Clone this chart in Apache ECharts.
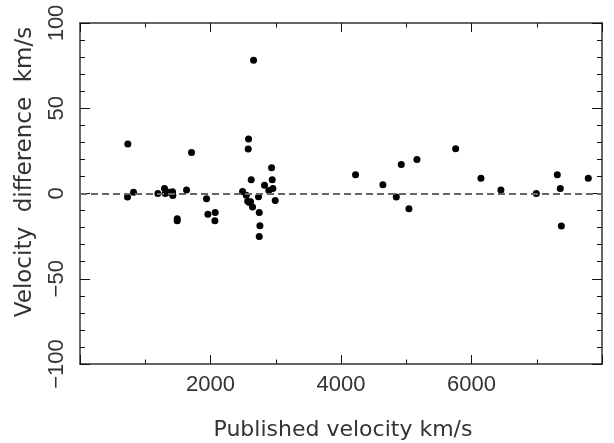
<!DOCTYPE html>
<html>
<head>
<meta charset="utf-8">
<script src="https://cdn.jsdelivr.net/npm/echarts@6/dist/echarts.min.js"></script>
<style>html,body{margin:0;padding:0;background:#fff;}#c{width:614px;height:443px;}</style>
</head>
<body>
<div id="c"></div>
<script>
var publishedVelocity = [733, 728, 820, 1193, 1295, 1306, 1362, 1418, 1423, 1490, 1490, 1633, 1709, 1939, 1960, 2072, 2067,
  2491, 2548, 2570, 2595, 2614, 2644, 2583, 2578, 2624, 2660, 2736, 2747, 2757, 2747, 2828, 2894, 2936, 2946, 2956, 2992,
  4223, 4642, 4847, 4924, 5041, 5164, 5757, 6145, 6451, 6993, 7315, 7361, 7377, 7790];
var velocityDifference = [29.1, -2.1, 0.8, 0, 2.9, 0, 0.8, 1.0, -1.2, -14.8, -16.0, 2.0, 24.0, -3.1, -12.1, -11.1, -16.0,
  1.2, -1.0, -4.5, -5.3, -4.9, -7.9, 32.0, 26.1, 8.0, 78.1, -1.9, -11.1, -18.9, -25.2, 4.9, 1.8, 15.1, 8.0, 2.9, -4.1,
  11.0, 5.1, -2.1, 17.0, -9.0, 19.9, 26.2, 9.0, 2.0, 0, 11.0, 2.9, -19.1, 9.0];
var xTickLabels = ['2000', '4000', '6000'];
var yTickLabels = ['\u2212100', '\u221250', '0', '50', '100'];
var xTitle = 'Published velocity km/s';
var yTitle = 'Velocity  difference  km/s';

var points = publishedVelocity.map(function (v, i) { return [v, velocityDifference[i]]; });
var FONT = '"Liberation Sans", "DejaVu Sans", sans-serif';
var TFONT = '"DejaVu Sans", "Liberation Sans", sans-serif';
var TXT = '#333';

function xAxisBase(pos, showLabel) {
  return {
    type: 'value', position: pos, min: 0, max: 8000, interval: 2000,
    axisLine: { show: true, onZero: false, lineStyle: { color: '#333', width: 1.5 } },
    axisTick: { show: true, inside: true, length: 9, lineStyle: { color: '#111', width: 1 } },
    minorTick: { show: true, splitNumber: 2, length: 4.5, lineStyle: { color: '#111', width: 1 } },
    splitLine: { show: false }, minorSplitLine: { show: false },
    axisLabel: {
      show: showLabel, fontSize: 22, color: TXT, fontFamily: FONT, margin: 10,
      formatter: function (v) { var s = String(v); return xTickLabels.indexOf(s) >= 0 ? s : ''; }
    }
  };
}
function yAxisBase(pos, showLabel) {
  return {
    type: 'value', position: pos, min: -100, max: 100, interval: 50,
    axisLine: { show: true, onZero: false, lineStyle: { color: '#333', width: 1.5 } },
    axisTick: { show: true, inside: true, length: 10, lineStyle: { color: '#111', width: 1 } },
    minorTick: { show: true, splitNumber: 5, length: 5, lineStyle: { color: '#111', width: 1 } },
    splitLine: { show: false }, minorSplitLine: { show: false },
    axisLabel: {
      show: showLabel, rotate: 90, fontSize: 22, color: TXT, fontFamily: FONT, margin: 12,
      formatter: function (v) { return yTickLabels[Math.round((v + 100) / 50)]; }
    }
  };
}

var chart = echarts.init(document.getElementById('c'), null, { renderer: 'canvas' });
chart.setOption({
  animation: false,
  backgroundColor: '#fff',
  grid: { left: 80, right: 12, top: 23, bottom: 79, containLabel: false },
  xAxis: [xAxisBase('bottom', true), xAxisBase('top', false)],
  yAxis: [yAxisBase('left', true), yAxisBase('right', false)],
  graphic: [
    { type: 'text', x: 343, y: 430, style: { text: xTitle, fontSize: 22, fontFamily: TFONT, fill: TXT, align: 'center', verticalAlign: 'middle' } },
    { type: 'text', x: 25, y: 172, rotation: Math.PI / 2, style: { text: yTitle, fontSize: 23, fontFamily: TFONT, fill: TXT, align: 'center', verticalAlign: 'middle' } }
  ],
  series: [{
    type: 'scatter', xAxisIndex: 0, yAxisIndex: 0,
    data: points, symbol: 'circle', symbolSize: 7,
    itemStyle: { color: '#000', opacity: 1 },
    markLine: {
      silent: true, symbol: 'none', label: { show: false },
      lineStyle: { color: '#666', width: 2, type: [7, 4] },
      data: [{ yAxis: 0 }]
    },
    z: 3
  }]
});
</script>
</body>
</html>
